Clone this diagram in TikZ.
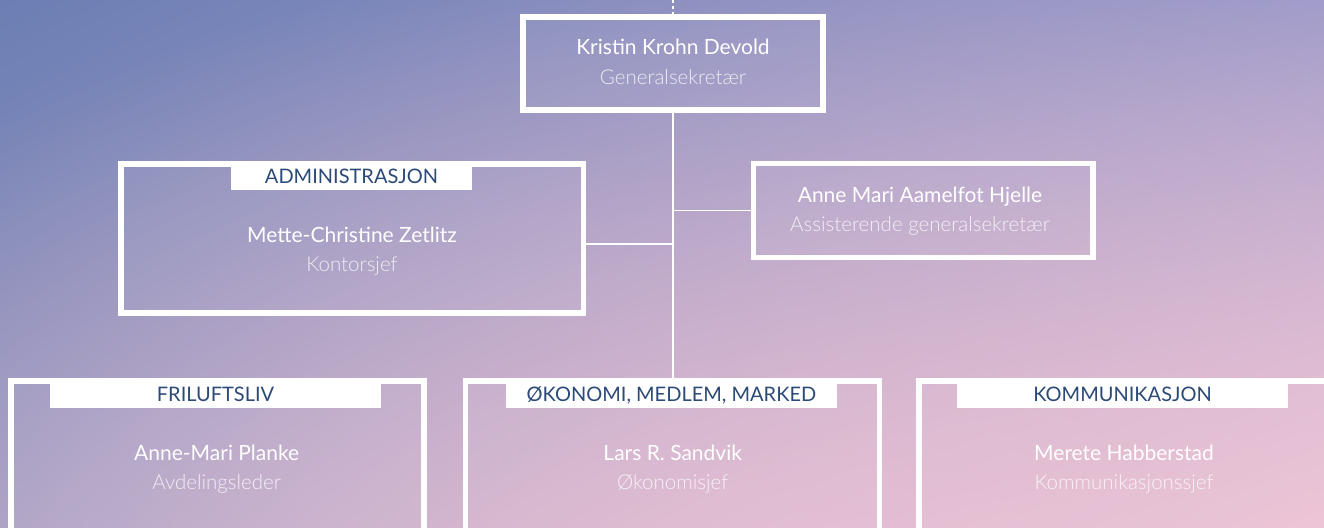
\documentclass[tikz,border=0pt]{standalone}
\usepackage{fontspec}
\setmainfont{Lato}
\newfontfamily\lightfont{Lato Light}
\usetikzlibrary{fadings,shadings}
\definecolor{bgUL}{HTML}{6C7EB4}
\definecolor{bgUR}{HTML}{A09CCA}
\definecolor{bgLL}{HTML}{9698C0}
\definecolor{bgLR}{HTML}{EEC6D6}
\definecolor{glowc}{HTML}{ECC0D4}
\definecolor{navy}{HTML}{2C4A78}
\tikzfading[name=glow, inner color=transparent!15, outer color=transparent!100]
\tikzset{
  orgbox/.style={draw=white, line width=5.5pt, fill=white, fill opacity=0.04, inner sep=0pt},
  tagbox/.style={fill=white, inner sep=0pt},
  nametext/.style={anchor=base, text=white, inner sep=0pt, font=\fontsize{21}{25}\selectfont},
  roletext/.style={anchor=base, text=white, text opacity=0.8, inner sep=0pt, font=\lightfont\fontsize{20.5}{24}\selectfont},
  tagtext/.style={anchor=base, text=navy, inner sep=0pt, font=\fontsize{20}{24}\selectfont},
  link/.style={draw=white, line width=1.8pt}
}
\begin{document}
\begin{tikzpicture}[x=1pt,y=-1pt]
\useasboundingbox (0,0) rectangle (1324,527);
\begin{scope}
\clip (0,0) rectangle (1324,527);
\shade[upper left=bgUL, upper right=bgUR, lower left=bgLL, lower right=bgLR] (0,0) rectangle (1324,527);
\fill[glowc, path fading=glow] (850,640) ellipse [x radius=1300, y radius=700];
\end{scope}

% top
\node[orgbox, minimum width=300.4pt, minimum height=93.2pt] (gs) at (673,63.4) {};
\node[nametext] (gsn) at (673,55) {Kristin Krohn Devold};
\node[roletext] (gsr) at (673,84) {Generalsekretær};

% administrasjon
\node[orgbox, minimum width=462.3pt, minimum height=149.3pt] (adm) at (352.2,238.4) {};
\node[tagbox, minimum width=241pt, minimum height=26.3pt] (admtag) at (351.5,176.85) {};
\node[tagtext] (admt) at (351.5,183.3) {ADMINISTRASJON};
\node[nametext] (admn) at (352,242.3) {Mette-Christine Zetlitz};
\node[roletext] (admr) at (352,271.7) {Kontorsjef};

% assisterende
\node[orgbox, minimum width=339.5pt, minimum height=93.6pt] (ags) at (923.3,210.5) {};
\node[nametext] (agsn) at (920,202.7) {Anne Mari Aamelfot Hjelle};
\node[roletext] (agsr) at (920,231.7) {Assisterende generalsekretær};

% bottom row
\node[orgbox, minimum width=413.4pt, minimum height=179pt] (fri) at (217.5,470.5) {};
\node[tagbox, minimum width=331pt, minimum height=26.7pt] (fritag) at (215.5,394.35) {};
\node[tagtext] (frit) at (215.5,401.7) {FRILUFTSLIV};
\node[nametext] (frin) at (216.7,460) {Anne-Mari Planke};
\node[roletext] (frir) at (216.7,489.3) {Avdelingsleder};

\node[orgbox, minimum width=414pt, minimum height=179pt] (oko) at (672.5,470.5) {};
\node[tagbox, minimum width=331.3pt, minimum height=26.7pt] (okotag) at (671.35,394.35) {};
\node[tagtext] (okot) at (671.35,401.7) {ØKONOMI, MEDLEM, MARKED};
\node[nametext] (okon) at (672.7,460) {Lars R. Sandvik};
\node[roletext] (okor) at (672.7,489.3) {Økonomisjef};

\node[orgbox, minimum width=413.4pt, minimum height=179pt] (kom) at (1125.5,470.5) {};
\node[tagbox, minimum width=331pt, minimum height=26.7pt] (komtag) at (1122.5,394.35) {};
\node[tagtext] (komt) at (1122.5,401.7) {KOMMUNIKASJON};
\node[nametext] (komn) at (1124,460) {Merete Habberstad};
\node[roletext] (komr) at (1124,489.3) {Kommunikasjonssjef};

% connectors
\coordinate (topend) at (673,0);
\coordinate (admj) at (673,244.3);
\draw[draw=white, line width=1.4pt, dash pattern=on 3pt off 3pt] (topend) -- (gs.north);
\draw[link] (gs.south) -- (oko.north -| gs.south);
\draw[link] (gs.south |- ags.west) -- (ags.west);
\draw[link] (admj) -- (adm.east |- admj);
\end{tikzpicture}
\end{document}
